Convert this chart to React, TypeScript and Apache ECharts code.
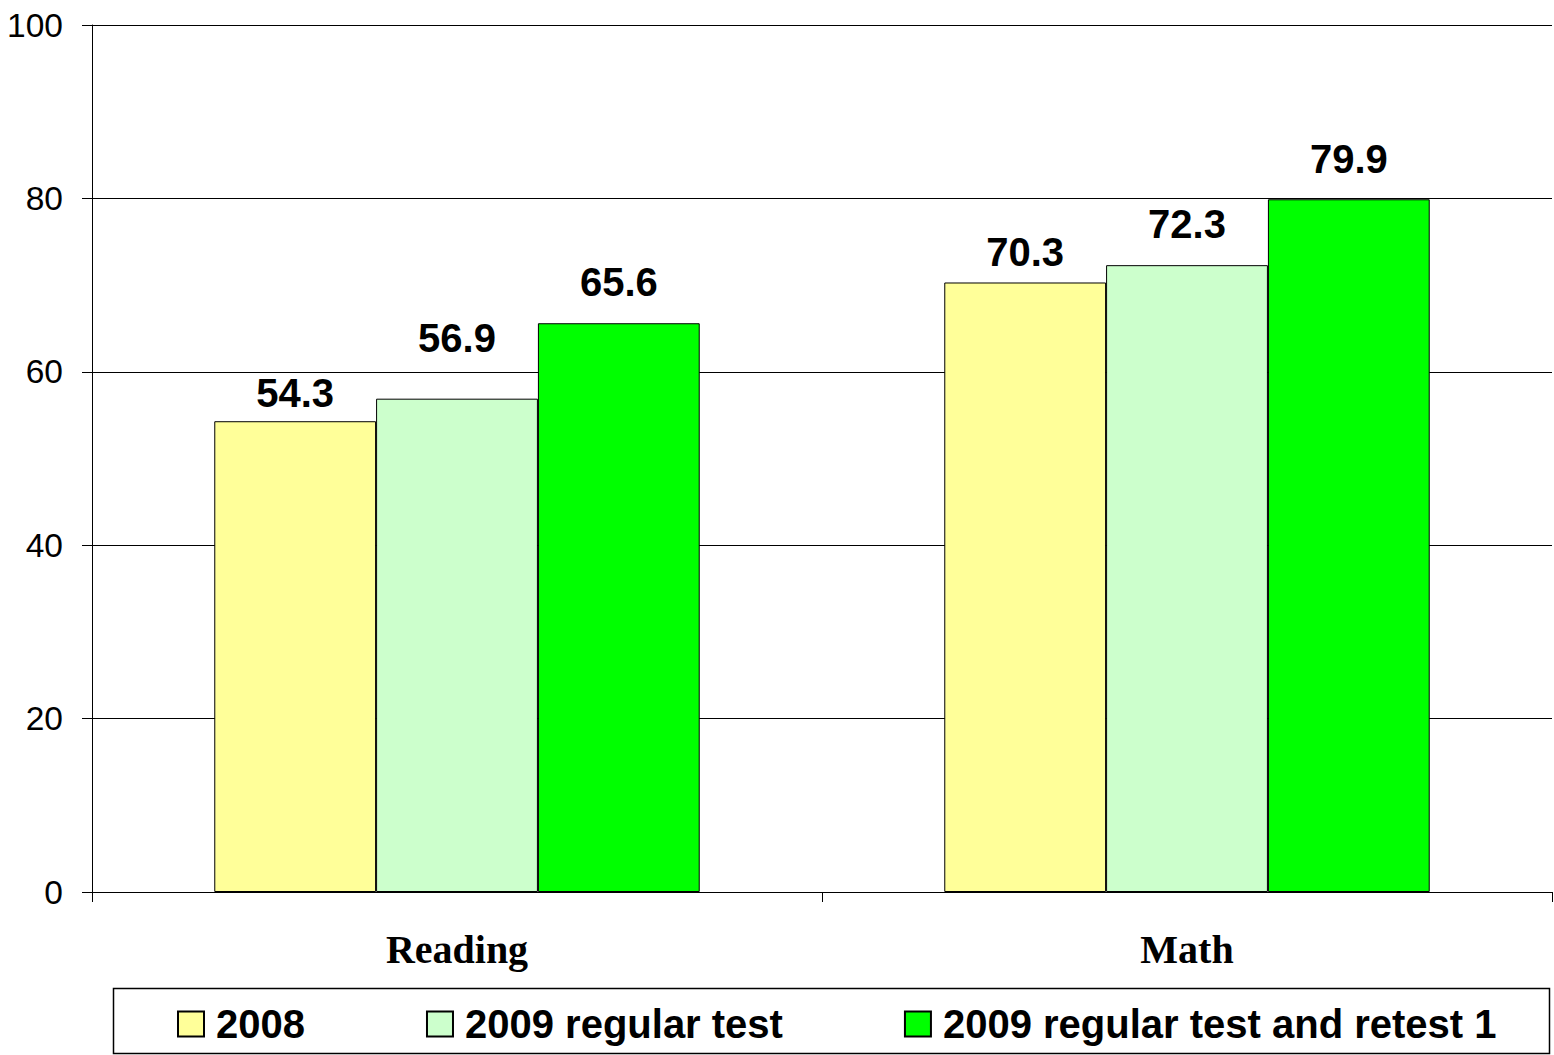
import React, { useEffect, useRef } from "react";
import * as echarts from "echarts";

const categories = ["Reading", "Math"];
const seriesNames = ["2008", "2009 regular test", "2009 regular test and retest 1"];
const values2008 = [54.3, 70.3];
const values2009 = [56.9, 72.3];
const values2009Retest = [65.6, 79.9];
const yTicks = { min: 0, max: 100, interval: 20 };

// label gap above each bar (style only), per series, per category
const labelGap2008 = [8, 10];
const labelGap2009 = [41, 21];
const labelGapRetest = [21, 20];
const colors = ["#FFFF99", "#CCFFCC", "#00FF00"];

export default function App() {
  const ref = useRef<HTMLDivElement>(null);
  useEffect(() => {
    const chart = echarts.init(ref.current!, null, { renderer: "svg" });
    const dataSets = [values2008, values2009, values2009Retest];
    const gaps = [labelGap2008, labelGap2009, labelGapRetest];
    chart.setOption({
      animation: false,
      backgroundColor: "#ffffff",
      grid: { left: 92, right: 2, top: 25, bottom: 163, containLabel: false },
      xAxis: {
        type: "category",
        data: categories,
        axisLine: { lineStyle: { color: "#000", width: 1 } },
        axisTick: { show: true, length: 10, lineStyle: { color: "#000" } },
        axisLabel: {
          margin: 37,
          color: "#000",
          fontFamily: "Liberation Serif",
          fontWeight: "bold",
          fontSize: 40,
        },
      },
      yAxis: {
        type: "value",
        min: yTicks.min,
        max: yTicks.max,
        interval: yTicks.interval,
        axisLine: { show: true, lineStyle: { color: "#000", width: 1 } },
        axisTick: { show: true, length: 10, lineStyle: { color: "#000" } },
        axisLabel: {
          margin: 29,
          color: "#000",
          fontFamily: "Liberation Sans",
          fontSize: 33.5,
        },
        splitLine: { show: true, lineStyle: { color: "#000", width: 1 } },
      },
      legend: {
        left: 177,
        top: 1004,
        padding: 0,
        itemWidth: 26,
        itemHeight: 25,
        itemGap: 121,
        icon: "rect",
        textStyle: {
          color: "#000",
          fontFamily: "Liberation Sans",
          fontWeight: "bold",
          fontSize: 40,
          lineHeight: 40,
          padding: [0, 0, 0, 7],
        },
        data: seriesNames,
      },
      graphic: [
        {
          type: "rect",
          shape: { x: 113.5, y: 988.5, width: 1436, height: 65 },
          style: { fill: "none", stroke: "#000", lineWidth: 1.5 },
          silent: true,
          z: -1,
        },
      ],
      series: seriesNames.map((name, i) => ({
        name,
        type: "bar",
        data: dataSets[i].map((v, j) => ({
          value: v,
          label: { distance: gaps[i][j] },
        })),
        barGap: "0%",
        barCategoryGap: "33.5%",
        itemStyle: { color: colors[i], borderColor: "#000", borderWidth: 1 },
        label: {
          show: true,
          position: "top",
          color: "#000",
          fontFamily: "Liberation Sans",
          fontWeight: "bold",
          fontSize: 40,
          formatter: (p: any) => Number(p.value).toFixed(1),
        },
      })),
    });
    return () => chart.dispose();
  }, []);
  return (
    <div
      ref={ref}
      style={{ position: "fixed", left: 0, top: 0, width: 1554, height: 1055, background: "#fff" }}
    />
  );
}
